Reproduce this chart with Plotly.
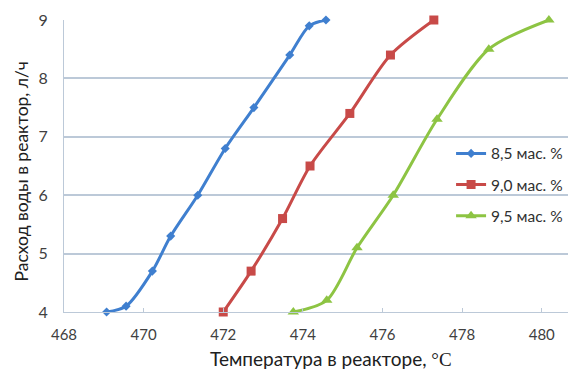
import plotly.graph_objects as go

# data
t_85 = [469.07, 469.56, 470.22, 470.68, 471.36, 472.05, 472.77, 473.67, 474.16, 474.58]
q_85 = [4.0, 4.1, 4.7, 5.3, 6.0, 6.8, 7.5, 8.4, 8.9, 9.0]
t_90 = [472.0, 472.7, 473.49, 474.18, 475.18, 476.2, 477.29]
q_90 = [4.0, 4.7, 5.6, 6.5, 7.4, 8.4, 9.0]
t_95 = [473.76, 474.6, 475.36, 476.27, 477.37, 478.67, 480.18]
q_95 = [4.0, 4.2, 5.1, 6.0, 7.3, 8.5, 9.0]
names = ["8,5 мас. %", "9,0 мас. %", "9,5 мас. %"]
x_ticks = [468, 470, 472, 474, 476, 478, 480]
y_ticks = [4, 5, 6, 7, 8, 9]
x_title = 'Температура в реакторе, <span style="font-family:Liberation Serif">°C</span>'
y_title = "Расход воды в реактор, л/ч"

FONT = "Lato"
TXT = "#404040"
GRID = "#bcc9d8"

series = [
    (t_85, q_85, names[0], "#3F7FCF", "diamond", 7),
    (t_90, q_90, names[1], "#C84A48", "square", 9),
    (t_95, q_95, names[2], "#8DC443", "triangle-up", 10),
]

fig = go.Figure()
for i, (x, y, n, c, sym, ms) in enumerate(series):
    fig.add_trace(go.Scatter(
        x=x, y=y, name=n, mode="lines+markers",
        line=dict(color=c, width=3, shape="spline", smoothing=0.8),
        marker=dict(symbol=sym, size=ms, color=c),
        legendgroup=f"g{i}", cliponaxis=False,
    ))

fig.update_layout(
    width=568, height=369,
    margin=dict(l=64, r=0, t=20, b=57, autoexpand=False),
    paper_bgcolor="white", plot_bgcolor="white",
    font=dict(family=FONT, size=15, color=TXT),
    showlegend=True,
    legend=dict(x=0.768, y=0.6, xanchor="left", yanchor="top",
                bgcolor="rgba(0,0,0,0)", font=dict(size=15.5, color="#303030"),
                tracegroupgap=8, itemwidth=30),
    xaxis=dict(range=[468, 480.66], tickvals=x_ticks, showgrid=False,
               showline=True, linecolor=GRID, linewidth=1,
               ticks="inside", ticklen=4, tickcolor=GRID,
               ticklabelstandoff=9, automargin=False,
               zeroline=False, tickfont=dict(size=15, color=TXT)),
    yaxis=dict(range=[4, 9], tickvals=y_ticks, showgrid=True, gridcolor=GRID,
               gridwidth=1.5, showline=True, linecolor=GRID, zeroline=False,
               ticks="", ticklabelstandoff=12, automargin=False,
               tickfont=dict(size=16, color=TXT)),
    annotations=[
        dict(text=x_title, xref="paper", yref="paper",
             x=(331 - 64) / 504, y=-(358 - 312) / 292,
             xanchor="center", yanchor="middle", showarrow=False,
             font=dict(size=19, color="#202020")),
        dict(text=y_title, xref="paper", yref="paper",
             x=-(64 - 21) / 504, y=(312 - 171.5) / 292,
             xanchor="center", yanchor="middle", showarrow=False, textangle=-90,
             font=dict(size=17.5, color="#202020")),
    ],
)

fig.write_html("out.html", config={"displayModeBar": False})
with open("out.html", encoding="utf-8") as f:
    html = f.read()
html = html.replace("<body>", '<body style="margin:0;overflow:hidden">', 1)
with open("out.html", "w", encoding="utf-8") as f:
    f.write(html)
